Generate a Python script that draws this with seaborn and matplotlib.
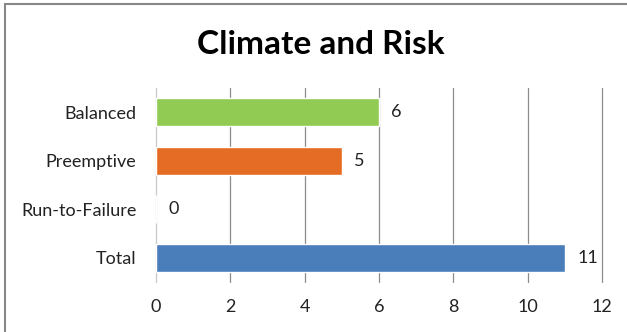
import matplotlib
matplotlib.use("Agg")
import matplotlib.pyplot as plt
from matplotlib.lines import Line2D
import pandas as pd
import seaborn as sns

# --- data ---
categories = ["Balanced", "Preemptive", "Run-to-Failure", "Total"]
counts = [6, 5, 0, 11]
bar_colors = ["#92CB53", "#E56C24", "#4A7EBB", "#4A7EBB"]
x_ticks = [0, 2, 4, 6, 8, 10, 12]

df = pd.DataFrame({"category": categories, "count": counts})

sns.set_style("white")
plt.rcParams["font.family"] = ["Lato", "DejaVu Sans"]

fig = plt.figure(figsize=(6.27, 3.32), dpi=100)
ax = fig.add_axes([156 / 627, 1 - 282 / 332, 446 / 627, 194 / 332])

sns.barplot(data=df, x="count", y="category", hue="category",
            palette=dict(zip(categories, bar_colors)), orient="h",
            width=0.58, saturation=1, legend=False, ax=ax)

ax.set_xlim(0, 12)
ax.set_xticks(x_ticks)
ax.set_xticklabels([str(t) for t in x_ticks], fontsize=13, color="#222222")
ax.tick_params(axis="x", length=0, pad=12)
ax.tick_params(axis="y", length=0, pad=14, labelsize=13, labelcolor="#222222")
ax.set_xlabel("")
ax.set_ylabel("")
for s in ax.spines.values():
    s.set_visible(False)
ax.grid(axis="x", color="#8c8c8c", linewidth=0.9)
for gl in ax.xaxis.get_gridlines():
    gl.set_clip_on(False)
ax.xaxis.get_gridlines()[0].set_color("#c8c8c8")
ax.set_axisbelow(True)

for i, v in enumerate(counts):
    ax.annotate(str(v), (v, i), xytext=(9, 0), textcoords="offset points",
                va="center", ha="left", fontsize=13, color="#222222")

fig.text(321 / 627, 1 - 45 / 332, "Climate and Risk", ha="center", va="center",
         fontsize=24, fontweight="bold", color="black")

# chart frame (left and top edges visible)
fig.add_artist(Line2D([5 / 627, 5 / 627], [0, 1 - 4 / 332], color="#888888", lw=1.5,
                      transform=fig.transFigure))
fig.add_artist(Line2D([5 / 627, 1], [1 - 4 / 332, 1 - 4 / 332], color="#888888", lw=1.5,
                      transform=fig.transFigure))

fig.savefig("out.png", dpi=100)
